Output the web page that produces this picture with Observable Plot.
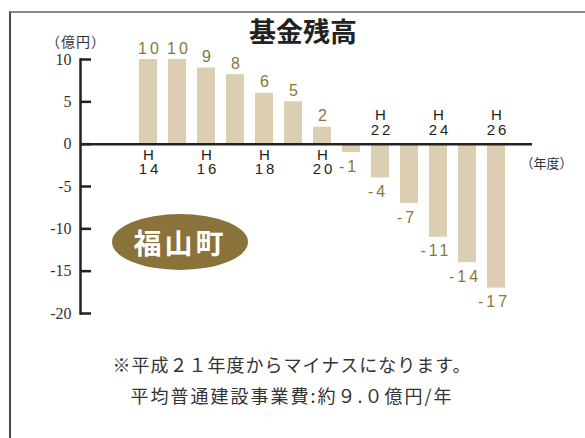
<!DOCTYPE html>
<html>
<head>
<meta charset="utf-8">
<script src="https://cdn.jsdelivr.net/npm/d3@7"></script>
<script src="https://cdn.jsdelivr.net/npm/@observablehq/plot@0.6"></script>
<style>
  html, body { margin: 0; padding: 0; background: #fff; }
  #wrap { position: relative; width: 585px; height: 438px; overflow: hidden; font-family: "Noto Sans CJK JP", sans-serif; }
  #border { position: absolute; left: 9px; top: 11px; width: 600px; height: 440px; border-top: 2px solid #8a8a8a; border-left: 2px solid #4a4a4a; }
  #title { position: absolute; left: 0; width: 606px; top: 12px; text-align: center; font-size: 27px; font-weight: bold; color: #222; line-height: 38px; }
  #unit { position: absolute; left: 46px; top: 31px; font-size: 14px; letter-spacing: 1px; color: #333; line-height: 20px; }
  #badge { position: absolute; left: 112px; top: 214px; width: 136px; height: 56px; border-radius: 50%; background: #8a733a; color: #fff; font-size: 28px; font-weight: bold; letter-spacing: 3px; display: flex; align-items: center; justify-content: center; }
  #caption { position: absolute; left: 0; width: 584px; top: 349px; text-align: center; font-size: 18px; letter-spacing: 1px; color: #333; line-height: 31px; }
  #caption .l2 { letter-spacing: 2px; }
  #chart { position: absolute; left: 0; top: 0; }
  #chart g[aria-label="text"] { font-family: "Liberation Sans", Arial, sans-serif; letter-spacing: 3px; }
  #chart g[aria-label="y-axis tick label"] { font-family: "Liberation Serif", serif; }
  #chart g.jp { font-family: "Noto Sans CJK JP", sans-serif; letter-spacing: 0; }
</style>
</head>
<body>
<div id="wrap">
  <div id="border"></div>
  <div id="chart"></div>
  <div id="title">基金残高</div>
  <div id="unit">（億円）</div>
  <div id="badge">福山町</div>
  <div id="caption">※平成２１年度からマイナスになります。<br><span class="l2">平均普通建設事業費:約９.０億円/年</span></div>
</div>
<script>
const years = ["H14","H15","H16","H17","H18","H19","H20","H21","H22","H23","H24","H25","H26"];
const values = [10, 10, 9, 8.2, 6, 5, 2, -1, -4, -7, -11, -14, -17];
const valueLabels = ["10","10","9","8","6","5","2","-1","-4","-7","-11","-14","-17"];
const yTicks = [10, 5, 0, -5, -10, -15, -20];
const xLabelYearsBelow = ["H14","H16","H18","H20"];
const xLabelYearsAbove = ["H22","H24","H26"];
const xUnitLabel = ["（年度）"];

const data = years.map((y, i) => ({year: y, value: values[i], label: valueLabels[i]}));
const pos = data.filter(d => d.value >= 0);
const neg = data.filter(d => d.value < 0);
const fmtYear = y => "H\n" + y.slice(1);

const barColor = "#dbceb2";
const labelColor = "#8b7538";

const chart = Plot.plot({
  width: 585,
  height: 438,
  marginLeft: 80,
  marginRight: 53,
  marginTop: 59,
  marginBottom: 125,
  x: {domain: years, range: [111, 532], paddingInner: 0.395, paddingOuter: 0.773, axis: null},
  y: {domain: [-20, 10], axis: null},
  marks: [
    Plot.barY(data, {x: "year", y: "value", fill: barColor}),
    Plot.ruleY([0], {stroke: "#222", strokeWidth: 2.5}),
    Plot.ruleY(yTicks, {stroke: "#222", strokeWidth: 2.5, insetRight: 441}),
    Plot.frame({anchor: "left", stroke: "#222", strokeWidth: 2.5}),
    Plot.axisY({ticks: yTicks, label: null, tickSize: 0, tickPadding: 9, tickFormat: d => String(d), fontFamily: "Liberation Serif", fontSize: 16, fill: "#333"}),
    Plot.text(pos, {x: "year", y: "value", text: "label", dy: -11, dx: 1.5, fill: labelColor, fontSize: 16}),
    Plot.text(neg, {x: "year", y: "value", text: "label", dy: 14, dx: -2.5, fill: labelColor, fontSize: 16}),
    Plot.text(xLabelYearsBelow, {x: d => d, y: () => 0, text: fmtYear, dy: 18, dx: 1.5, lineHeight: 0.98, fill: "#222", fontSize: 15}),
    Plot.text(xLabelYearsAbove, {x: d => d, y: () => 0, text: fmtYear, dy: -21.5, dx: 1.5, lineHeight: 0.98, fill: "#222", fontSize: 15}),
    Plot.text(xUnitLabel, {frameAnchor: "right", y: () => -2.3, dx: -12, textAnchor: "start", fill: "#333", fontSize: 13})
  ]
});
// CJK unit label uses the Japanese font
const groups = chart.querySelectorAll('g[aria-label="text"]');
groups[groups.length - 1].classList.add("jp");
document.getElementById("chart").appendChild(chart);
</script>
</body>
</html>
